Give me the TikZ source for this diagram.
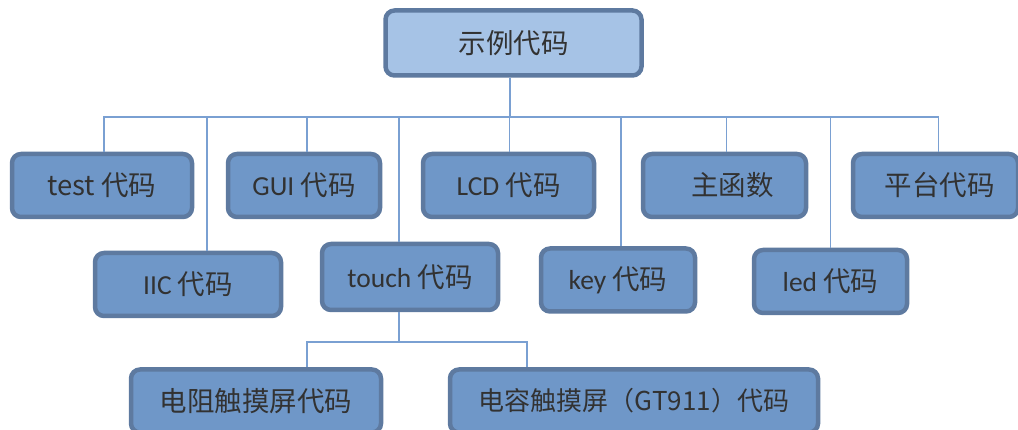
\documentclass[tikz,border=0pt]{standalone}
\usepackage{fontspec}
\setmainfont{Noto Sans CJK SC}
\newfontfamily\latin{Carlito}
\definecolor{rootblue}{RGB}{166,195,230}
\definecolor{boxblue}{RGB}{111,151,200}
\definecolor{boxedge}{RGB}{94,122,160}
\definecolor{linkblue}{RGB}{122,160,210}
\definecolor{textgrey}{RGB}{50,50,50}

\begin{document}
\begin{tikzpicture}[x=1pt,y=-1pt,
    box/.style={draw=boxedge,line width=4.5pt,rounded corners=9pt,fill=boxblue,
      text=textgrey,font=\fontsize{27.5}{32}\selectfont,minimum height=63pt,inner sep=0pt},
    link/.style={draw=linkblue,line width=1.6pt}]
  \useasboundingbox (0,0) rectangle (1018,430);

  \node[box,fill=rootblue,minimum width=256pt,minimum height=65pt] (root) at (513.5,43) {示例代码};

  % first row
  \node[box,minimum width=180pt] (test) at (102,185.5) {test 代码};
  \node[box,minimum width=152pt] (gui) at (304,185.5) {{\latin GUI} 代码};
  \node[box,minimum width=171pt] (lcd) at (508.5,185.5) {{\latin LCD} 代码};
  \node[box,minimum width=163pt] (fn) at (724.5,185.5) {\hspace{16pt}主函数};
  \node[box,minimum width=165pt] (plat) at (935.5,185.5) {\hspace{8pt}平台代码};

  % second row
  \node[box,minimum width=186pt] (iic) at (188,284.5) {{\latin IIC} 代码};
  \node[box,minimum width=176pt,minimum height=66pt] (touch) at (410,277) {{\latin touch} 代码};
  \node[box,minimum width=154pt] (key) at (618,280) {{\latin key} 代码};
  \node[box,minimum width=153pt] (led) at (830.5,281.5) {{\latin led} 代码};

  % touch screens
  \node[box,minimum width=250pt] (res) at (256,401) {电阻触摸屏代码};
  \node[box,minimum width=368pt,font=\fontsize{26}{30}\selectfont] (cap) at (634,401) {电容触摸屏（GT911）代码};

  \coordinate (bus) at (510,117);
  \coordinate (sub) at (399,342);

  \draw[link] (root.south -| bus) -- (bus);
  \foreach \n/\dx in {test/2,iic/19,gui/3,touch/-11,lcd/1,key/3,fn/2,led/0,plat/3}
    \draw[link] ([xshift=\dx pt]\n.north) |- (bus);
  \draw[link] ([xshift=-11pt]touch.south) -- (sub);
  \draw[link] ([xshift=51pt]res.north) |- (sub);
  \draw[link] ([xshift=-107pt]cap.north) |- (sub);
\end{tikzpicture}
\end{document}
